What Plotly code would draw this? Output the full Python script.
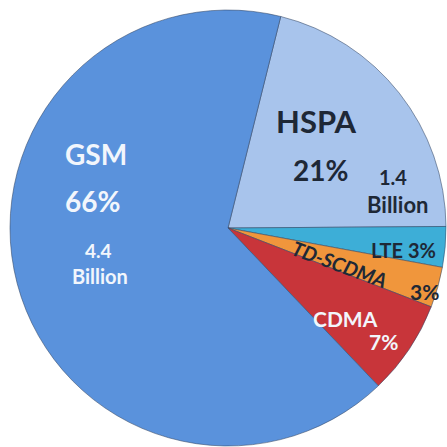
import plotly.graph_objects as go

# Data
labels = ["HSPA", "LTE", "TD-SCDMA", "CDMA", "GSM"]
shares = [21, 3, 3, 7, 66]
subs_billion = {"GSM": "4.4", "HSPA": "1.4"}
colors = ["#A8C4EC", "#3DAED7", "#F0963C", "#C8353A", "#5A92DC"]

fig = go.Figure()
fig.add_trace(go.Pie(
    labels=labels,
    values=shares,
    sort=False,
    direction="clockwise",
    rotation=14,
    textinfo="none",
    hoverinfo="label+percent",
    marker=dict(colors=colors, line=dict(color="rgba(50,70,100,0.55)", width=1)),
    domain=dict(x=[10/447, 446/447], y=[1/447, 437/447]),
    showlegend=False,
))

F = "Lato, 'Open Sans', sans-serif"
dark = "#1E2836"
white = "#F2F6FC"

def ann(text, x, y, size, color, angle=0):
    return dict(text=text, x=x/447, y=1 - y/447, xref="paper", yref="paper",
                showarrow=False, textangle=angle,
                font=dict(family=F, size=size, color=color),
                xanchor="center", yanchor="middle")

annotations = [
    ann("<b>%s</b>" % labels[4], 96, 154, 28, white),
    ann("<b>%d%%</b>" % shares[4], 92, 201, 28, white),
    ann("<b>%s</b>" % subs_billion["GSM"], 98, 250, 19, white),
    ann("<b>Billion</b>", 100, 276, 20, white),
    ann("<b>%s</b>" % labels[0], 316, 121, 31, dark),
    ann("<b>%d%%</b>" % shares[0], 320, 170, 28, dark),
    ann("<b>%s</b>" % subs_billion["HSPA"], 393, 177, 20, dark),
    ann("<b>Billion</b>", 397, 204, 22, dark),
    ann("<b>%s %d%%</b>" % (labels[1], shares[1]), 403, 250, 20, dark),
    ann("<b><i>%s</i></b>" % labels[2], 340, 264, 20, dark, angle=20),
    ann("<b>%d%%</b>" % shares[2], 424, 291, 21, dark),
    ann("<b>%s</b>" % labels[3], 345, 318, 21, white),
    ann("<b>%d%%</b>" % shares[3], 383, 341, 21, white),
]

fig.update_layout(
    width=447, height=447,
    margin=dict(l=0, r=0, t=0, b=0),
    paper_bgcolor="white",
    plot_bgcolor="white",
    annotations=annotations,
)

fig.write_html(
    "out.html",
    config={"displayModeBar": False},
    post_script="document.body.style.margin='0';document.body.style.overflow='hidden';",
)
